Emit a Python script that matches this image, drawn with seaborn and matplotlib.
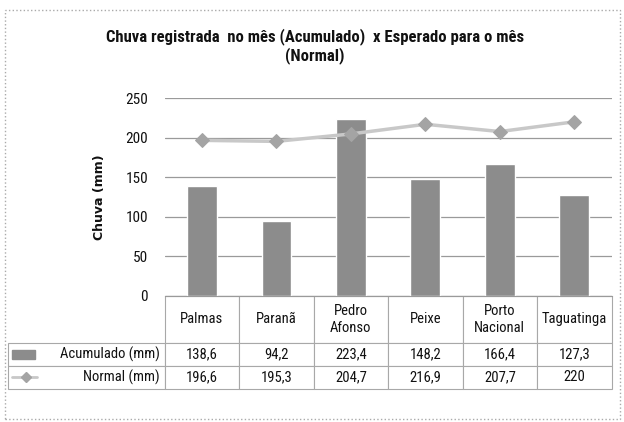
import seaborn as sns
import matplotlib.pyplot as plt
from matplotlib.table import Table
from matplotlib.patches import Rectangle
from matplotlib.lines import Line2D

# dados
cidades = ['Palmas', 'Paranã', 'Pedro Afonso', 'Peixe', 'Porto Nacional', 'Taguatinga']
rotulos = ['Palmas', 'Paranã', 'Pedro\nAfonso', 'Peixe', 'Porto\nNacional', 'Taguatinga']
acumulado = [138.6, 94.2, 223.4, 148.2, 166.4, 127.3]
normal = [196.6, 195.3, 204.7, 216.9, 207.7, 220]
acumulado_txt = ['138,6', '94,2', '223,4', '148,2', '166,4', '127,3']
normal_txt = ['196,6', '195,3', '204,7', '216,9', '207,7', '220']

sns.set_style("white")
estreita = ['Liberation Sans Narrow', 'Roboto Condensed', 'Liberation Sans', 'DejaVu Sans']
plt.rcParams['font.family'] = estreita

fig = plt.figure(figsize=(6.24, 4.22), dpi=100)
ax = fig.add_axes([0.264, 0.2986, 0.716, 0.469])

cor_barra = '#8c8c8c'
cor_linha = '#c8c8c8'
cor_marca = '#a4a4a4'

sns.barplot(x=cidades, y=acumulado, color=cor_barra, width=0.4, saturation=1, ax=ax, zorder=2)
sns.lineplot(x=cidades, y=normal, sort=False, color=cor_linha, linewidth=2.5, marker='D',
             markersize=7, markerfacecolor=cor_marca, markeredgecolor=cor_marca, ax=ax, zorder=3)

ax.set_xlim(-0.5, 5.5)
ax.set_ylim(0, 250)
ax.set_yticks(range(0, 251, 50))
ax.tick_params(axis='y', labelsize=11, length=0, pad=12, labelcolor='#111111')
ax.set_xticks([])
ax.set_xlabel('')
ax.grid(axis='y', color='#9a9a9a', linewidth=0.9)
for s in ['left', 'right', 'top']:
    ax.spines[s].set_visible(False)
ax.spines['bottom'].set_color('#9a9a9a')
ax.set_ylabel('Chuva (mm)', family='DejaVu Sans', fontweight='bold', fontsize=9, labelpad=14,
              color='#111111')

# tabela de dados abaixo do grafico
h_cab = 47 / 198
h_lin = 23 / 198
w_rot = 157 / 447
w_col = 1 / 6
tab = Table(ax, bbox=[0, -(h_cab + 2 * h_lin), 1, h_cab + 2 * h_lin])
for j, r in enumerate(rotulos):
    tab.add_cell(0, j, w_col, h_cab, text=r, loc='center')
tab.add_cell(1, -1, w_rot, h_lin, text='Acumulado (mm)', loc='right')
tab.add_cell(2, -1, w_rot, h_lin, text='Normal (mm)', loc='right')
for j in range(len(cidades)):
    tab.add_cell(1, j, w_col, h_lin, text=acumulado_txt[j], loc='center')
    tab.add_cell(2, j, w_col, h_lin, text=normal_txt[j], loc='center')
tab.auto_set_font_size(False)
tab.set_fontsize(10.5)
for (r, c), cell in tab.get_celld().items():
    cell.set_edgecolor('#a8a8a8')
    cell.set_linewidth(0.8)
    cell.get_text().set_color('#111111')
    if c == -1:
        cell.PAD = 0.03
ax.add_table(tab)

# simbolos da legenda nas linhas da tabela
y1 = -(h_cab + 0.5 * h_lin)
y2 = -(h_cab + 1.5 * h_lin)
ax.add_patch(Rectangle((-w_rot + 0.01, y1 - 0.025), 0.05, 0.05, transform=ax.transAxes,
                       color=cor_barra, clip_on=False))
ax.add_line(Line2D([-w_rot + 0.01, -w_rot + 0.065], [y2, y2], transform=ax.transAxes,
                   color=cor_linha, linewidth=2, clip_on=False))
ax.add_line(Line2D([-w_rot + 0.04], [y2], transform=ax.transAxes, marker='D', markersize=5,
                   color=cor_marca, clip_on=False))

fig.text(0.505, 0.89, 'Chuva registrada  no mês (Acumulado)  x Esperado para o mês\n(Normal)',
         ha='center', va='center', fontsize=12, fontweight='bold', linespacing=1.15,
         color='#111111')

# moldura pontilhada
fig.patches.append(Rectangle((0.008, 0.006), 0.985, 0.97, transform=fig.transFigure,
                             fill=False, edgecolor='#aaaaaa', linestyle=':', linewidth=1))

fig.savefig('out.png', dpi=100)
